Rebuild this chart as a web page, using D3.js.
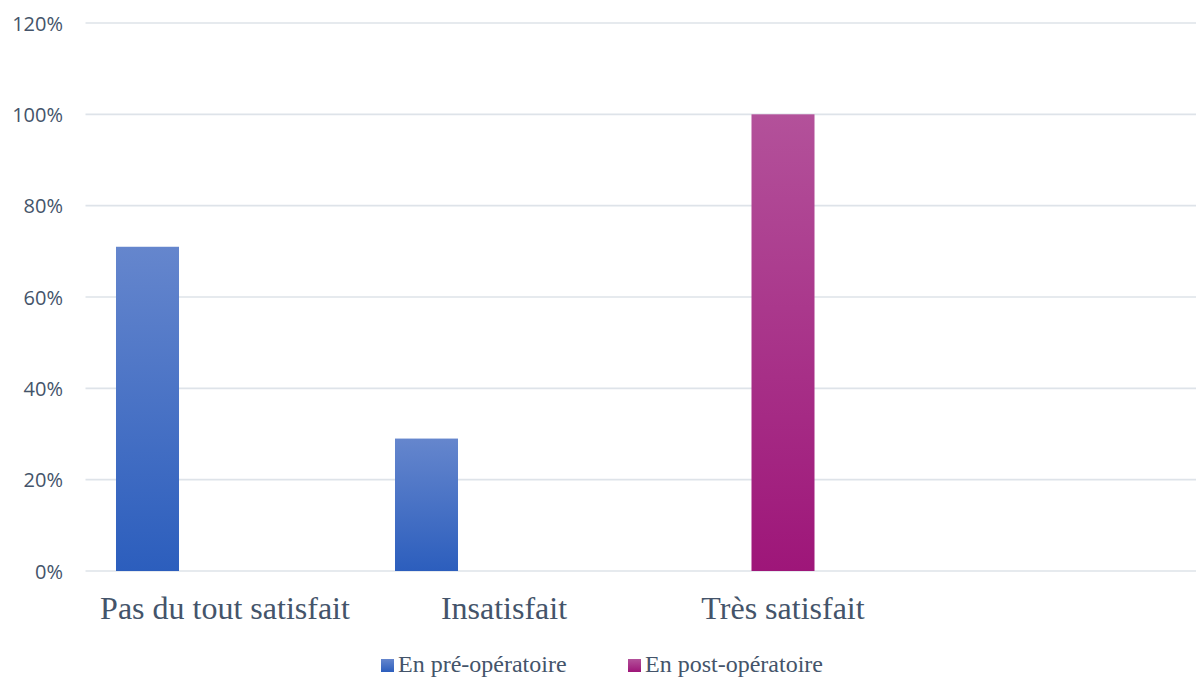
<!DOCTYPE html>
<html>
<head>
<meta charset="utf-8">
<script src="https://cdn.jsdelivr.net/npm/d3@7"></script>
<style>
  html, body { margin: 0; padding: 0; background: #ffffff; }
  svg { display: block; }
</style>
</head>
<body>
<div id="chart"></div>
<script>
// ---- Data ----
const categories = ["Pas du tout satisfait", "Insatisfait", "Très satisfait", ""];
const seriesNames = ["En pré-opératoire", "En post-opératoire"];
const preOp  = [0.71, 0.29, null, null];
const postOp = [null, null, 1.00, null];
const yTicks = [0, 0.2, 0.4, 0.6, 0.8, 1.0, 1.2];
const slots = [0, 1, 2]; // clustered slots per category (Excel layout)

const W = 1196, H = 678;
const svg = d3.select("#chart").append("svg").attr("width", W).attr("height", H);

const defs = svg.append("defs");
function grad(id, top, bottom) {
  const g = defs.append("linearGradient").attr("id", id)
    .attr("x1", 0).attr("y1", 0).attr("x2", 0).attr("y2", 1);
  g.append("stop").attr("offset", "0%").attr("stop-color", top);
  g.append("stop").attr("offset", "100%").attr("stop-color", bottom);
}
grad("gPre", "#6586CD", "#2C5EBD");
grad("gPost", "#B3519A", "#9E1679");
const fills = ["url(#gPre)", "url(#gPost)"];

const x = d3.scaleBand().domain(d3.range(categories.length)).range([85.5, 1201.5]).padding(0);
const xs = d3.scaleBand().domain(slots).range([0, x.bandwidth()]).paddingInner(0.187).paddingOuter(0.3935);
const y = d3.scaleLinear().domain([0, 1.2]).range([571, 23]);

const textColor = "#44546A";

// gridlines
svg.append("g").selectAll("line").data(yTicks).join("line")
  .attr("x1", 85.5).attr("x2", 1201.5)
  .attr("y1", d => y(d)).attr("y2", d => y(d))
  .attr("stroke", "#DEE3E9").attr("stroke-width", 1.6);

// y labels
svg.append("g").selectAll("text").data(yTicks).join("text")
  .attr("x", 63).attr("y", d => y(d)).attr("dy", "0.38em")
  .attr("text-anchor", "end")
  .attr("font-family", "'Open Sans', sans-serif").attr("font-size", 20)
  .attr("fill", textColor)
  .text(d => d3.format(".0%")(d));

// bars
const series = [preOp, postOp];
series.forEach((vals, si) => {
  svg.append("g").selectAll("rect")
    .data(vals.map((v, i) => ({ v, i })).filter(d => d.v != null))
    .join("rect")
    .attr("x", d => x(d.i) + xs(si))
    .attr("width", xs.bandwidth())
    .attr("y", d => y(d.v))
    .attr("height", d => y(0) - y(d.v))
    .attr("fill", fills[si]);
});

// x labels
svg.append("g").selectAll("text").data(categories).join("text")
  .attr("x", (d, i) => x(i) + x.bandwidth() / 2)
  .attr("y", 619)
  .attr("text-anchor", "middle")
  .attr("font-family", "'Liberation Serif', 'Times New Roman', serif").attr("font-size", 32)
  .attr("fill", textColor)
  .text(d => d);

// legend
const legendX = [381, 628];
seriesNames.forEach((name, i) => {
  const g = svg.append("g").attr("transform", `translate(${legendX[i]},0)`);
  g.append("rect").attr("x", 0).attr("y", 659).attr("width", 13).attr("height", 13).attr("fill", fills[i]);
  g.append("text").attr("x", 17).attr("y", 671.5)
    .attr("font-family", "'Liberation Serif', 'Times New Roman', serif").attr("font-size", 24)
    .attr("fill", textColor).text(name);
});
</script>
</body>
</html>
